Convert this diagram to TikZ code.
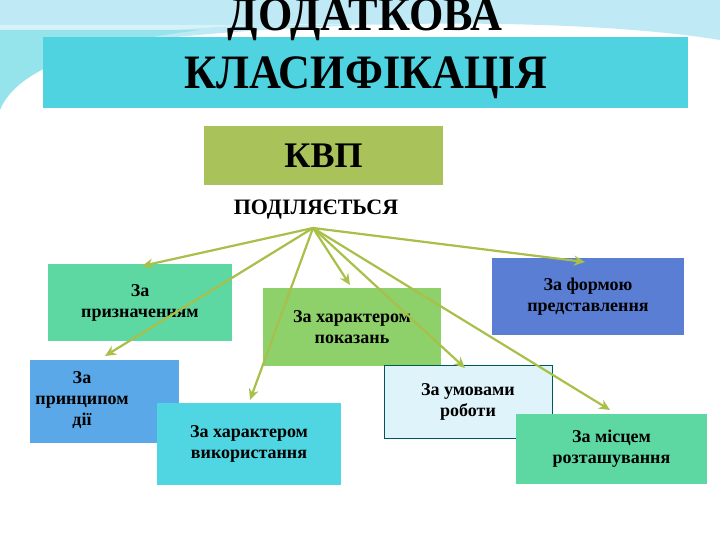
\documentclass[tikz,border=0pt]{standalone}
\usepackage{fontspec}
\setmainfont{Liberation Serif}
\usetikzlibrary{arrows.meta}
\definecolor{band}{HTML}{4FD3E0}
\definecolor{olive}{HTML}{A9C25A}
\definecolor{arr}{HTML}{A8C04A}
\definecolor{mint}{HTML}{5ED8A2}
\definecolor{lgreen}{HTML}{8ED06A}
\definecolor{dblue}{HTML}{5A7ED4}
\definecolor{mblue}{HTML}{5AA8E8}
\definecolor{cyanb}{HTML}{4FD6E2}
\definecolor{sky}{HTML}{BFE9F5}
\begin{document}
\begin{tikzpicture}[x=1pt,y=-1pt,
  box/.style={inner sep=0pt,align=center,font=\bfseries\fontsize{18}{21}\selectfont},
  conn/.style={draw=arr,line width=2.2pt,-{Stealth[length=11pt,width=10pt]}}]
\useasboundingbox (0,0) rectangle (720,540);
\fill[white] (0,0) rectangle (720,540);
% background swooshes
\fill[sky] (0,0) -- (720,0) -- (720,40) .. controls (600,20) and (300,10) .. (0,60) -- cycle;
\fill[sky!60!white] (0,60) .. controls (100,30) and (250,20) .. (420,25) -- (0,25) -- cycle;
\fill[band!60!white] (0,110) .. controls (20,60) and (120,40) .. (200,30) -- (0,30) -- cycle;
% title band
\fill[band] (43,37) rectangle (688,108);
\node[inner sep=0pt,xscale=0.92,font=\bfseries\fontsize{48}{50}\selectfont] (t1) at (365,20) {ДОДАТКОВА};
\node[inner sep=0pt,xscale=0.92,font=\bfseries\fontsize{48}{50}\selectfont] (t2) at (366,78) {КЛАСИФІКАЦІЯ};
% KVP
\node[box,fill=olive,minimum width=239pt,minimum height=59pt,font=\bfseries\fontsize{36}{38}\selectfont] (kvp) at (323.5,155.5) {КВП};
\node[inner sep=1pt,font=\bfseries\fontsize{22}{24}\selectfont] (pod) at (316,210) {ПОДІЛЯЄТЬСЯ};
\coordinate (o) at (313,228);
% boxes
\node[box,fill=mint,minimum width=184pt,minimum height=77pt] (b1) at (140,302.5) {За\\призначенням};
\node[box,fill=lgreen,minimum width=178pt,minimum height=78pt] (b2) at (352,327) {За характером\\показань};
\node[box,fill=dblue,minimum width=192pt,minimum height=77pt] (b3) at (588,296.5) {За формою\\представлення};
\node[box,fill=mblue,minimum width=149pt,minimum height=83pt] (b4) at (104.5,401.5) {};
\node[box] (b4t) at (82,400) {За\\принципом\\дії};
\node[box,fill=cyanb,minimum width=184pt,minimum height=82pt] (b5) at (249,444) {За характером\\використання};
\node[box,fill=sky!50!white,draw=teal!70!black,line width=0.6pt,minimum width=168pt,minimum height=73pt] (b6) at (468,401.5) {За умовами\\роботи};
\node[box,fill=mint,minimum width=191pt,minimum height=70pt] (b7) at (611.5,449) {За місцем\\розташування};
% arrow targets
\coordinate (e1) at (142,266);
\coordinate (e2) at (105,356);
\coordinate (e3) at (250,400);
\coordinate (e4) at (350,285);
\coordinate (e5) at (465,368);
\coordinate (e6) at (610,410);
\coordinate (e7) at (585,262);
\foreach \e in {e1,e2,e3,e4,e5,e6,e7} \draw[conn] (o) -- (\e);
\end{tikzpicture}
\end{document}
